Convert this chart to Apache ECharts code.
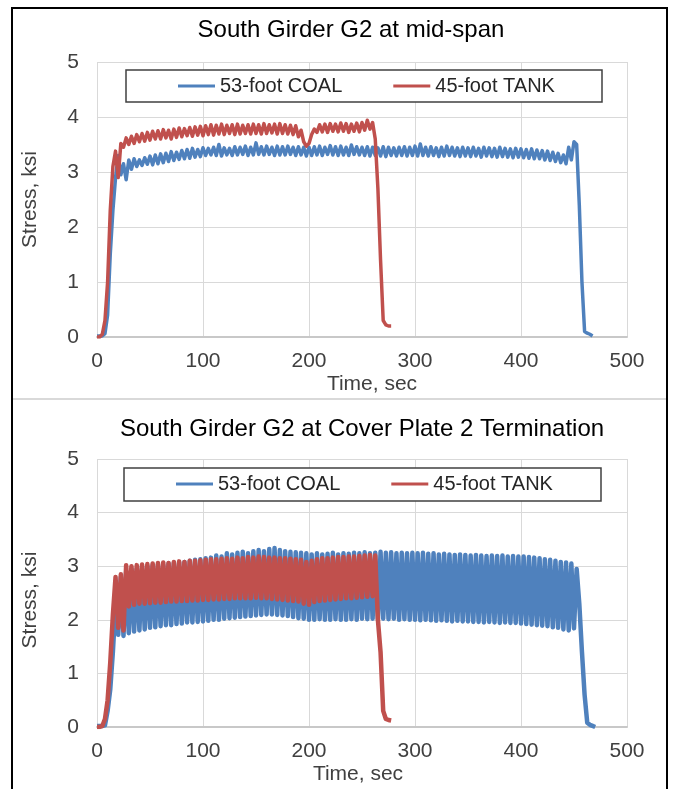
<!DOCTYPE html>
<html>
<head>
<meta charset="utf-8">
<title>South Girder G2 stress histories</title>
<script src="https://cdn.jsdelivr.net/npm/echarts@6/dist/echarts.min.js"></script>
<style>
html, body { margin: 0; padding: 0; background: #fff; }
#main { width: 673px; height: 789px; }
</style>
</head>
<body>
<div id="main"></div>
<script>
// readings taken every 2.5 s
var sampleStep = 2.5
var seriesNames = ['53-foot COAL', '45-foot TANK']
var chartTitles = ['South Girder G2 at mid-span', 'South Girder G2 at Cover Plate 2 Termination']
var xTicks = [0, 100, 200, 300, 400, 500]
var yTicks = [0, 1, 2, 3, 4, 5]

// mid-span, 53-foot COAL (ksi)
var midCoal = [
  0.02, 0.02, 0.02, 0.06, 0.4, 1.5, 2.3, 2.9, 3.3, 2.95, 3.15, 2.86, 3.22, 3.05, 3.24, 3.1, 3.22, 3.12, 3.26, 3.14,
  3.29, 3.13, 3.31, 3.15, 3.33, 3.17, 3.34, 3.19, 3.37, 3.21, 3.36, 3.23, 3.39, 3.24, 3.41, 3.25, 3.43, 3.27, 3.41, 3.28,
  3.44, 3.3, 3.43, 3.31, 3.45, 3.3, 3.5, 3.29, 3.44, 3.31, 3.43, 3.3, 3.46, 3.31, 3.45, 3.32, 3.47, 3.3, 3.45, 3.31,
  3.53, 3.32, 3.46, 3.31, 3.47, 3.32, 3.45, 3.3, 3.47, 3.31, 3.46, 3.31, 3.47, 3.32, 3.45, 3.3, 3.46, 3.31, 3.45, 3.29,
  3.45, 3.3, 3.46, 3.31, 3.47, 3.3, 3.45, 3.32, 3.48, 3.31, 3.46, 3.3, 3.47, 3.31, 3.45, 3.3, 3.49, 3.32, 3.46, 3.31,
  3.45, 3.3, 3.46, 3.29, 3.45, 3.3, 3.44, 3.29, 3.46, 3.28, 3.45, 3.3, 3.44, 3.29, 3.45, 3.3, 3.46, 3.29, 3.45, 3.3,
  3.47, 3.29, 3.51, 3.3, 3.45, 3.29, 3.46, 3.3, 3.44, 3.28, 3.45, 3.29, 3.47, 3.3, 3.45, 3.29, 3.44, 3.28, 3.45, 3.29,
  3.44, 3.28, 3.45, 3.29, 3.43, 3.27, 3.45, 3.29, 3.44, 3.28, 3.43, 3.27, 3.45, 3.28, 3.43, 3.27, 3.42, 3.26, 3.43, 3.27,
  3.42, 3.26, 3.41, 3.25, 3.42, 3.24, 3.4, 3.24, 3.39, 3.22, 3.38, 3.21, 3.36, 3.19, 3.34, 3.17, 3.31, 3.15, 3.45, 3.22,
  3.55, 3.5, 2.4, 1.0, 0.1, 0.07, 0.05, 0.02
]
// mid-span, 45-foot TANK (ksi)
var midTank = [
  0.0, 0.0, 0.05, 0.3, 1.0, 2.3, 3.1, 3.38, 2.9, 3.52, 3.45, 3.62, 3.5, 3.65, 3.52, 3.68, 3.55, 3.7, 3.56, 3.72,
  3.58, 3.74, 3.6, 3.75, 3.6, 3.77, 3.62, 3.76, 3.6, 3.78, 3.63, 3.8, 3.64, 3.79, 3.66, 3.81, 3.65, 3.82, 3.67, 3.83,
  3.66, 3.84, 3.68, 3.86, 3.67, 3.85, 3.69, 3.87, 3.68, 3.85, 3.7, 3.86, 3.68, 3.87, 3.69, 3.85, 3.7, 3.86, 3.69, 3.87,
  3.7, 3.86, 3.69, 3.88, 3.7, 3.86, 3.71, 3.87, 3.69, 3.88, 3.7, 3.86, 3.69, 3.85, 3.68, 3.84, 3.64, 3.76, 3.55, 3.47,
  3.52, 3.68, 3.78, 3.72, 3.86, 3.73, 3.87, 3.72, 3.88, 3.74, 3.87, 3.73, 3.89, 3.74, 3.88, 3.72, 3.87, 3.74, 3.89, 3.73,
  3.9, 3.76, 3.94, 3.78, 3.9, 3.6, 2.7, 1.4, 0.3, 0.22, 0.2, 0.2
]
// cover plate 2 termination, 53-foot COAL (ksi)
var cpCoal = [
  0.02, 0.02, 0.02, 0.03, 0.3, 0.7, 1.4, 2.3, 1.72, 2.8, 1.7, 2.9, 1.75, 2.95, 1.78, 2.95, 1.8, 3.0, 1.82, 3.0,
  1.85, 3.02, 1.86, 3.03, 1.88, 3.02, 1.9, 3.05, 1.9, 3.06, 1.92, 3.07, 1.93, 3.08, 1.95, 3.1, 1.95, 3.12, 1.96, 3.13,
  1.97, 3.15, 1.98, 3.16, 2.0, 3.2, 2.0, 3.18, 2.02, 3.24, 2.03, 3.22, 2.04, 3.25, 2.05, 3.27, 2.06, 3.24, 2.07, 3.28,
  2.08, 3.3, 2.09, 3.28, 2.1, 3.32, 2.1, 3.34, 2.09, 3.3, 2.08, 3.28, 2.07, 3.27, 2.05, 3.26, 2.03, 3.25, 2.02, 3.24,
  2.0, 3.22, 2.0, 3.24, 2.01, 3.22, 2.0, 3.23, 2.0, 3.25, 2.01, 3.22, 2.0, 3.24, 2.0, 3.23, 2.01, 3.25, 2.0, 3.24,
  2.02, 3.26, 2.01, 3.24, 2.02, 3.25, 2.01, 3.27, 2.02, 3.25, 2.01, 3.26, 2.02, 3.24, 2.0, 3.25, 2.01, 3.24, 2.0, 3.25,
  2.0, 3.24, 1.99, 3.25, 2.0, 3.23, 1.99, 3.24, 1.98, 3.22, 1.99, 3.23, 1.98, 3.22, 1.97, 3.21, 1.98, 3.22, 1.97, 3.21,
  1.97, 3.2, 1.96, 3.21, 1.96, 3.2, 1.95, 3.19, 1.96, 3.2, 1.95, 3.19, 1.94, 3.2, 1.95, 3.18, 1.94, 3.19, 1.94, 3.18,
  1.93, 3.18, 1.92, 3.17, 1.91, 3.16, 1.9, 3.15, 1.89, 3.13, 1.88, 3.12, 1.86, 3.1, 1.85, 3.08, 1.82, 3.07, 1.8, 3.05,
  1.84, 2.95, 2.3, 1.4, 0.6, 0.08, 0.04, 0.02, 0.0
]
// cover plate 2 termination, 45-foot TANK (ksi)
var cpTank = [
  0.0, 0.0, 0.02, 0.15, 0.5, 1.2, 2.1, 2.8, 1.85, 2.85, 1.8, 3.02, 2.25, 3.0, 2.28, 3.02, 2.3, 3.03, 2.3, 3.04,
  2.31, 3.05, 2.32, 3.06, 2.32, 3.07, 2.33, 3.06, 2.34, 3.08, 2.34, 3.09, 2.35, 3.08, 2.35, 3.1, 2.36, 3.1, 2.36, 3.11,
  2.37, 3.12, 2.37, 3.13, 2.38, 3.13, 2.38, 3.14, 2.39, 3.15, 2.39, 3.14, 2.4, 3.16, 2.4, 3.15, 2.4, 3.17, 2.4, 3.16,
  2.41, 3.18, 2.4, 3.17, 2.4, 3.16, 2.39, 3.16, 2.38, 3.15, 2.37, 3.15, 2.36, 3.14, 2.35, 3.13, 2.34, 3.12, 2.3, 3.08,
  2.28, 3.1, 2.33, 3.13, 2.35, 3.15, 2.36, 3.15, 2.37, 3.16, 2.38, 3.17, 2.39, 3.17, 2.4, 3.18, 2.4, 3.18, 2.41, 3.19,
  2.42, 3.2, 2.43, 3.21, 2.44, 3.2, 2.0, 1.4, 0.3, 0.15, 0.13, 0.12
]

var blue = '#4f81bd'
var red = '#c0504d'
var fontFamily = 'Liberation Sans, Arial, sans-serif'

var myChart = echarts.init(document.getElementById('main'), null, { renderer: 'canvas' })

function toPairs(values) {
  return values.map(function(v, i) { return [i * sampleStep, v] })
}

function lineSeries(name, values, idx, color, width) {
  return {
    name: name,
    type: 'line',
    xAxisIndex: idx,
    yAxisIndex: idx,
    data: toPairs(values),
    symbol: 'none',
    color: color,
    lineStyle: { color: color, width: width, join: 'round' },
    emphasis: { disabled: true }
  }
}

function xAxisFor(idx, namePad) {
  return {
    type: 'value',
    gridIndex: idx,
    min: xTicks[0],
    max: xTicks[xTicks.length - 1],
    interval: xTicks[1] - xTicks[0],
    name: 'Time, sec',
    nameLocation: 'middle',
    nameGap: 37,
    nameTextStyle: { fontSize: 21, color: '#404040', fontFamily: fontFamily, padding: namePad },
    axisLine: { show: true, lineStyle: { color: '#c8c8c8', width: 2 } },
    axisTick: { show: false },
    axisLabel: { fontSize: 21, color: '#404040', margin: 14, fontFamily: fontFamily },
    splitLine: { show: true, lineStyle: { color: '#d9d9d9', width: 1 } }
  }
}

function yAxisFor(idx, namePad) {
  return {
    type: 'value',
    gridIndex: idx,
    min: yTicks[0],
    max: yTicks[yTicks.length - 1],
    interval: yTicks[1] - yTicks[0],
    name: 'Stress, ksi',
    nameLocation: 'middle',
    nameGap: 56,
    nameTextStyle: { fontSize: 21, color: '#404040', fontFamily: fontFamily, padding: namePad },
    axisLine: { show: false },
    axisTick: { show: false },
    axisLabel: { fontSize: 21, color: '#404040', margin: 18, fontFamily: fontFamily },
    splitLine: { show: true, lineStyle: { color: '#d9d9d9', width: 1 } }
  }
}

function legendAt(left, top) {
  return {
    data: seriesNames,
    left: left,
    top: top,
    orient: 'horizontal',
    padding: 0,
    icon: 'rect',
    itemWidth: 37,
    itemHeight: 3,
    itemGap: 51,
    selectedMode: false,
    z: 10,
    textStyle: { fontSize: 20, color: '#262626', fontFamily: fontFamily }
  }
}

var option = {
  animation: false,
  backgroundColor: '#ffffff',
  grid: [
    { left: 97, top: 62, width: 530, height: 275 },
    { left: 97, top: 459, width: 530, height: 268 }
  ],
  xAxis: [xAxisFor(0, [0, 0, 0, 20]), xAxisFor(1, [0, 8, 0, 0])],
  yAxis: [yAxisFor(0, [0, 0, 0, 0]), yAxisFor(1, [0, 14, 0, 0])],
  legend: [legendAt(178, 76), legendAt(176, 474)],
  graphic: [
    // outer frame and divider between the two panels
    { type: 'rect', z: 20, silent: true, shape: { x: 12, y: 8, width: 655, height: 820 },
      style: { fill: 'none', stroke: '#000', lineWidth: 2 } },
    { type: 'line', z: 20, silent: true, shape: { x1: 13, y1: 399, x2: 666, y2: 399 },
      style: { stroke: '#d9d9d9', lineWidth: 2 } },
    // legend frames
    { type: 'rect', z: 5, silent: true, shape: { x: 126, y: 70, width: 476, height: 32 },
      style: { fill: '#fff', stroke: '#404040', lineWidth: 1.5 } },
    { type: 'rect', z: 5, silent: true, shape: { x: 124, y: 468, width: 477, height: 33 },
      style: { fill: '#fff', stroke: '#404040', lineWidth: 1.5 } },
    // panel titles
    { type: 'text', z: 20, silent: true, x: 351, y: 30,
      style: { text: chartTitles[0], fill: '#000', fontSize: 24, fontFamily: fontFamily, align: 'center', verticalAlign: 'middle' } },
    { type: 'text', z: 20, silent: true, x: 362, y: 429,
      style: { text: chartTitles[1], fill: '#000', fontSize: 24, fontFamily: fontFamily, align: 'center', verticalAlign: 'middle' } }
  ],
  series: [
    lineSeries(seriesNames[0], midCoal, 0, blue, 3.5),
    lineSeries(seriesNames[1], midTank, 0, red, 3.5),
    lineSeries(seriesNames[0], cpCoal, 1, blue, 4.5),
    lineSeries(seriesNames[1], cpTank, 1, red, 4.5)
  ]
}

myChart.setOption(option, true)
window.addEventListener('resize', function() {
  myChart.resize()
})
</script>
</body>
</html>
